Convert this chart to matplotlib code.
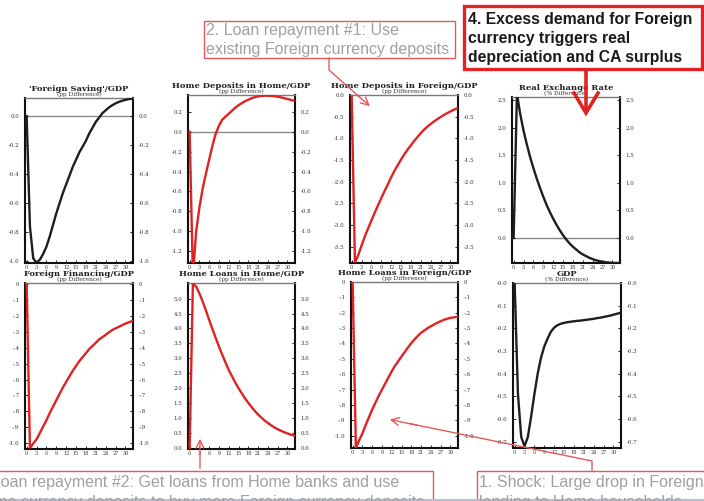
import matplotlib
matplotlib.use('Agg')
import matplotlib.pyplot as plt
from matplotlib.patches import Rectangle

W, H = 704, 501
fig = plt.figure(figsize=(W / 100, H / 100), dpi=100)

# ---------------- data (periods 0..32) ----------------
periods = list(range(33))

foreign_saving = [0.0, -0.76, -0.98, -1.01, -0.99, -0.95, -0.90, -0.83, -0.75, -0.67,
                  -0.60, -0.53, -0.47, -0.41, -0.35, -0.30, -0.25, -0.21, -0.17, -0.12,
                  -0.08, -0.04, -0.01, 0.02, 0.04, 0.06, 0.075, 0.088, 0.098, 0.106,
                  0.112, 0.117, 0.12]
home_dep_home = [0.0, -1.45, -1.0, -0.76, -0.57, -0.42, -0.28, -0.14, -0.02, 0.06,
                 0.12, 0.15, 0.18, 0.21, 0.24, 0.265, 0.285, 0.305, 0.32, 0.335,
                 0.345, 0.353, 0.358, 0.36, 0.36, 0.358, 0.355, 0.35, 0.343, 0.335,
                 0.327, 0.318, 0.31]
home_dep_foreign = [0.0, -3.87, -3.70, -3.48, -3.27, -3.08, -2.90, -2.72, -2.55, -2.38,
                    -2.22, -2.06, -1.90, -1.75, -1.62, -1.49, -1.37, -1.26, -1.16, -1.06,
                    -0.97, -0.88, -0.80, -0.73, -0.67, -0.61, -0.56, -0.51, -0.46, -0.42,
                    -0.38, -0.34, -0.31]
real_exchange = [0.0, 2.62, 2.25, 1.95, 1.70, 1.47, 1.27, 1.08, 0.91, 0.75,
                 0.60, 0.47, 0.35, 0.24, 0.14, 0.05, -0.03, -0.10, -0.16, -0.21,
                 -0.26, -0.30, -0.33, -0.36, -0.385, -0.405, -0.42, -0.432, -0.442, -0.448,
                 -0.452, -0.455, -0.455]
foreign_fin = [0.0, -1.03, -1.0, -0.975, -0.935, -0.895, -0.855, -0.81, -0.77, -0.73,
               -0.69, -0.65, -0.615, -0.58, -0.545, -0.515, -0.485, -0.46, -0.435, -0.41,
               -0.39, -0.37, -0.35, -0.335, -0.32, -0.305, -0.29, -0.28, -0.27, -0.26,
               -0.25, -0.242, -0.235]
home_loans_home = [0.0, 5.5, 5.4, 5.17, 4.9, 4.6, 4.28, 3.98, 3.68, 3.39,
                   3.12, 2.86, 2.61, 2.40, 2.19, 2.0, 1.83, 1.66, 1.51, 1.37,
                   1.24, 1.12, 1.02, 0.92, 0.84, 0.76, 0.69, 0.63, 0.58, 0.53,
                   0.49, 0.45, 0.42]
home_loans_foreign = [0.0, -1.08, -1.03, -0.985, -0.93, -0.88, -0.83, -0.785, -0.74, -0.70,
                      -0.66, -0.62, -0.58, -0.545, -0.515, -0.484, -0.455, -0.425, -0.397, -0.373,
                      -0.35, -0.33, -0.315, -0.30, -0.288, -0.276, -0.265, -0.255, -0.246, -0.239,
                      -0.233, -0.23, -0.227]
gdp = [0.0, -0.49, -0.68, -0.72, -0.68, -0.59, -0.49, -0.40, -0.33, -0.28,
       -0.245, -0.215, -0.197, -0.186, -0.18, -0.176, -0.173, -0.171, -0.169, -0.167,
       -0.166, -0.164, -0.162, -0.16, -0.158, -0.155, -0.153, -0.15, -0.147, -0.144,
       -0.14, -0.136, -0.132]

x_ticks = [0, 3, 6, 9, 12, 15, 18, 21, 24, 27, 30]

yt_fs = [0.0, -0.2, -0.4, -0.6, -0.8, -1.0]
yl_fs = ['0.0', '-0.2', '-0.4', '-0.6', '-0.8', '-1.0']
yt_hdh = [0.2, 0.0, -0.2, -0.4, -0.6, -0.8, -1.0, -1.2]
yl_hdh = ['0.2', '0.0', '-0.2', '-0.4', '-0.6', '-0.8', '-1.0', '-1.2']
yt_hdf = [0.0, -0.5, -1.0, -1.5, -2.0, -2.5, -3.0, -3.5]
yl_hdf = ['0.0', '-0.5', '-1.0', '-1.5', '-2.0', '-2.5', '-3.0', '-3.5']
yt_rer = [2.5, 2.0, 1.5, 1.0, 0.5, 0.0]
yl_rer = ['2.5', '2.0', '1.5', '1.0', '0.5', '0.0']
yt_ff = [0, -0.1, -0.2, -0.3, -0.4, -0.5, -0.6, -0.7, -0.8, -0.9, -1.0]
yl_ff = ['0', '-.1', '-.2', '-.3', '-.4', '-.5', '-.6', '-.7', '-.8', '-.9', '-1.0']
yt_hlh = [5.0, 4.5, 4.0, 3.5, 3.0, 2.5, 2.0, 1.5, 1.0, 0.5, 0.0]
yl_hlh = ['5.0', '4.5', '4.0', '3.5', '3.0', '2.5', '2.0', '1.5', '1.0', '0.5', '0.0']
yt_gdp = [0.0, -0.1, -0.2, -0.3, -0.4, -0.5, -0.6, -0.7]
yl_gdp = ['-0.0', '-0.1', '-0.2', '-0.3', '-0.4', '-0.5', '-0.6', '-0.7']

BLACK = '#1e1e1e'
RED = '#e02222'

panels = [
    ("'Foreign Saving'/GDP", "(pp Difference)", foreign_saving, BLACK, (-1.012, 0.125), yt_fs, yl_fs, True, (25, 98, 133, 263)),
    ("Home Deposits in Home/GDP", "(pp Difference)", home_dep_home, RED, (-1.317, 0.367), yt_hdh, yl_hdh, True, (188, 95, 295, 263)),
    ("Home Deposits in Foreign/GDP", "(pp Difference)", home_dep_foreign, RED, (-3.88, 0.0), yt_hdf, yl_hdf, False, (350, 95, 458, 263)),
    ("Real Exchange Rate", "(% Difference)", real_exchange, BLACK, (-0.455, 2.56), yt_rer, yl_rer, True, (512, 97, 620, 263)),
    ("Foreign Financing/GDP", "(pp Difference)", foreign_fin, RED, (-1.035, 0.004), yt_ff, yl_ff, False, (25, 283, 133, 449)),
    ("Home Loans in Home/GDP", "(pp Difference)", home_loans_home, RED, (-0.03, 5.52), yt_hlh, yl_hlh, False, (188, 283, 295, 449)),
    ("Home Loans in Foreign/GDP", "(pp Difference)", home_loans_foreign, RED, (-1.08, 0.0), yt_ff, yl_ff, False, (351, 282, 458, 448)),
    ("GDP", "(% Difference)", gdp, BLACK, (-0.728, 0.0), yt_gdp, yl_gdp, False, (513, 283, 621, 448)),
]

SERIF = 'DejaVu Serif'

for title, sub, vals, col, ylim, yt, yl, zero, (x0, y0, x1, y1) in panels:
    ax = fig.add_axes([x0 / W, 1 - y1 / H, (x1 - x0) / W, (y1 - y0) / H])
    if zero:
        ax.axhline(0, color='#8a8a8a', lw=1.0, zorder=1)
    ax.plot(periods, vals, color=col, lw=1.7, zorder=3, solid_joinstyle='miter')
    ax.set_xlim(-0.5, 32.3)
    ax.set_ylim(*ylim)
    ax.set_xticks(x_ticks)
    ax.set_xticklabels([str(v) for v in x_ticks], fontsize=3.5, family=SERIF, color='#333333')
    ax.set_yticks(yt)
    ax.set_yticklabels(yl, fontsize=4.0, family=SERIF, color='#333333')
    ax.tick_params(axis='y', which='both', left=True, right=True, labelleft=True,
                   labelright=True, direction='in', length=2, width=0.6, pad=4)
    ax.tick_params(axis='x', direction='in', length=2, width=0.6, pad=1.2)
    for side in ('left', 'right', 'bottom'):
        ax.spines[side].set_linewidth(1.5)
        ax.spines[side].set_color('#111111')
    ax.spines['top'].set_linewidth(1.0)
    ax.spines['top'].set_color('#7a7a7a')
    cx = (x0 + x1) / 2
    fig.text(cx / W, 1 - (y0 - 9) / H, title, ha='center', va='center',
             fontsize=6.0, family=SERIF, fontweight='bold', color='#222222')
    fig.text(cx / W, 1 - (y0 - 3.5) / H, sub, ha='center', va='center',
             fontsize=4.2, family=SERIF, color='#333333')

# ---------------- annotation overlay (pixel coordinates) ----------------
ov = fig.add_axes([0, 0, 1, 1], zorder=10)
ov.set_xlim(0, W)
ov.set_ylim(H, 0)
ov.axis('off')
ov.patch.set_alpha(0)

LRED = '#e45a5a'
GRAY = '#a0a0a0'
SANS = 'Liberation Sans'
FS = 11.5

# box 2
ov.add_patch(Rectangle((204, 21), 251, 37, fill=False, ec=LRED, lw=1.0))
ov.text(206, 30, "2. Loan repayment #1: Use", fontsize=FS, family=SANS, color=GRAY, va='center', ha='left')
ov.text(206, 49, "existing Foreign currency deposits", fontsize=FS, family=SANS, color=GRAY, va='center', ha='left')
ov.plot([329, 329, 360], [58, 70, 97.5], color=LRED, lw=1.0)
ov.annotate('', xy=(372, 108), xytext=(355, 93),
            arrowprops=dict(arrowstyle='->', color=LRED, lw=1.0, mutation_scale=14))

# box 4
ov.add_patch(Rectangle((464, 6), 238, 63, fill=False, ec=RED, lw=2.4))
for yy, line in zip([19, 38, 57], ["4. Excess demand for Foreign", "currency triggers real",
                                   "depreciation and CA surplus"]):
    ov.text(468, yy, line, fontsize=11.3, family=SANS, fontweight='bold',
            color='#1a1a1a', va='center', ha='left')
ov.plot([586, 586], [69, 113], color=RED, lw=2.6, solid_capstyle='butt')
ov.plot([574, 586, 598], [93, 113, 93], color=RED, lw=2.6, solid_joinstyle='miter')

# box 3
ov.add_patch(Rectangle((-5, 471), 438, 45, fill=False, ec=LRED, lw=1.0, clip_on=False))
ov.text(-26, 482, "3. Loan repayment #2: Get loans from Home banks and use", fontsize=FS, family=SANS, color=GRAY, va='center', ha='left')
ov.text(-26, 502, "Home currency deposits to buy more Foreign currency deposits", fontsize=FS, family=SANS, color=GRAY, va='center', ha='left')
ov.annotate('', xy=(200, 436), xytext=(200, 471),
            arrowprops=dict(arrowstyle='->', color=LRED, lw=1.0, mutation_scale=14))

# box 1
ov.add_patch(Rectangle((477, 471), 240, 45, fill=False, ec=LRED, lw=1.0, clip_on=False))
ov.text(479, 482, "1. Shock: Large drop in Foreign", fontsize=FS, family=SANS, color=GRAY, va='center', ha='left')
ov.text(479, 502, "lending to Home households", fontsize=FS, family=SANS, color=GRAY, va='center', ha='left')
ov.plot([592, 592, 410], [471, 461, 423.7], color=LRED, lw=1.0)
ov.annotate('', xy=(387, 419), xytext=(420, 425.8),
            arrowprops=dict(arrowstyle='->', color=LRED, lw=1.0, mutation_scale=14))

# faint bottom band
ov.plot([0, 704], [499.5, 499.5], color='#b8bcd6', lw=1.5)

fig.savefig('out.png', dpi=100)
